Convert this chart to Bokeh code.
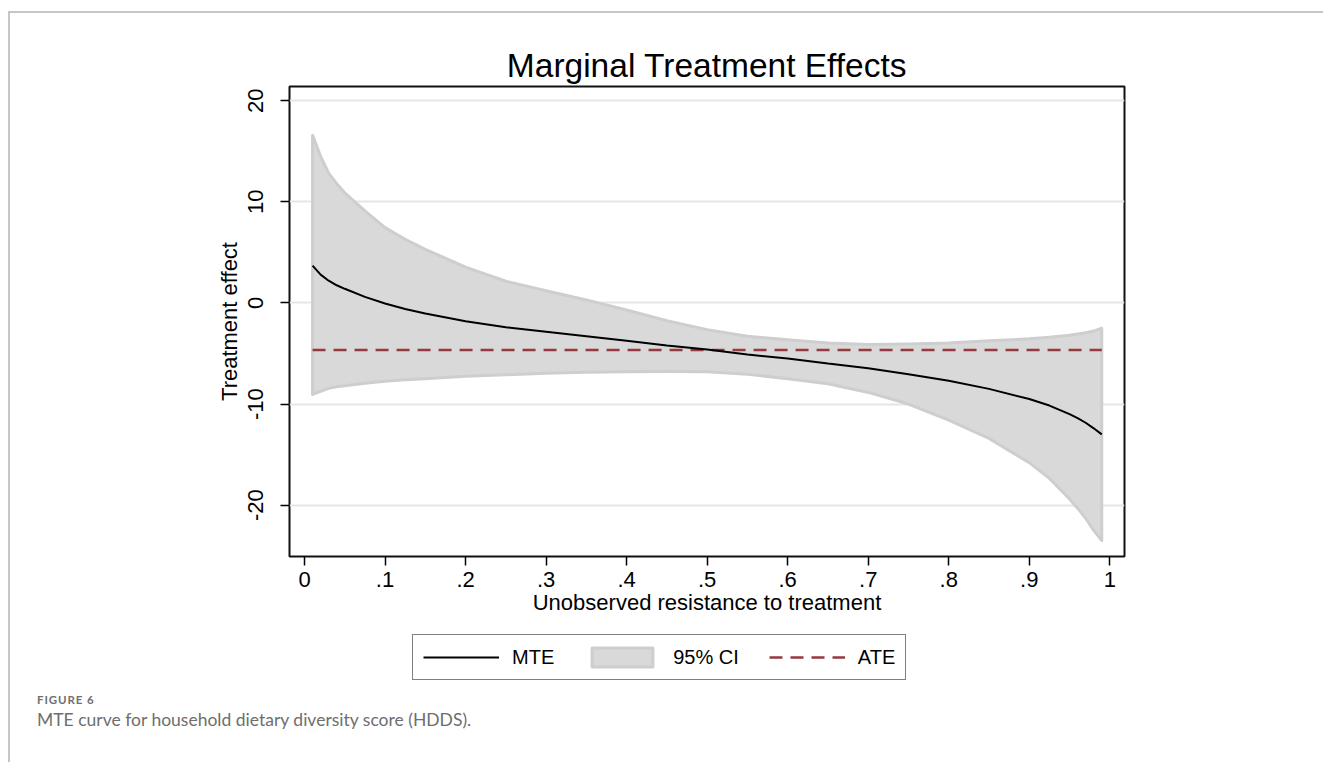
from bokeh.plotting import figure
from bokeh.models import Range1d, FixedTicker, Legend, LegendItem, Div
from bokeh.layouts import column
from bokeh.embed import file_html
from bokeh.resources import INLINE

# ---------------- data ----------------
u = [0.01, 0.02, 0.03, 0.04, 0.05, 0.075, 0.10, 0.125, 0.15, 0.20, 0.25, 0.30,
     0.35, 0.40, 0.45, 0.50, 0.55, 0.60, 0.65, 0.70, 0.75, 0.80, 0.85, 0.90,
     0.925, 0.95, 0.96, 0.97, 0.98, 0.99]
mte = [3.7, 2.8, 2.2, 1.75, 1.4, 0.6, -0.05, -0.6, -1.05, -1.8, -2.4, -2.85,
       -3.3, -3.75, -4.2, -4.6, -5.1, -5.5, -6.0, -6.45, -7.05, -7.7, -8.5, -9.5,
       -10.15, -11.0, -11.4, -11.85, -12.4, -13.0]
ci_upper = [16.6, 14.5, 12.85, 11.8, 10.9, 9.1, 7.45, 6.3, 5.3, 3.55, 2.15, 1.2,
            0.3, -0.7, -1.75, -2.65, -3.3, -3.65, -3.95, -4.1, -4.05, -3.95, -3.75, -3.55,
            -3.4, -3.2, -3.08, -2.95, -2.78, -2.5]
ci_lower = [-9.05, -8.75, -8.45, -8.3, -8.2, -7.95, -7.75, -7.6, -7.5, -7.25, -7.1, -6.95,
            -6.85, -6.8, -6.78, -6.8, -7.05, -7.5, -8.0, -8.85, -10.0, -11.6, -13.4, -15.8,
            -17.35, -19.4, -20.3, -21.3, -22.5, -23.5]
ate = -4.65

x_ticks = [0, 0.1, 0.2, 0.3, 0.4, 0.5, 0.6, 0.7, 0.8, 0.9, 1.0]
x_tick_labels = ["0", ".1", ".2", ".3", ".4", ".5", ".6", ".7", ".8", ".9", "1"]
y_ticks = [-20, -10, 0, 10, 20]
y_tick_labels = ["-20", "-10", "0", "10", "20"]

title_text = "Marginal Treatment Effects"
xlabel_text = "Unobserved resistance to treatment"
ylabel_text = "Treatment effect"
legend_labels = ["MTE", "95% CI", "ATE"]
fig_label = "FIGURE 6"
caption_text = "MTE curve for household dietary diversity score (HDDS)."

FONT = "Liberation Sans"
MTE_STYLE = dict(line_color="black", line_width=2)
BAND_STYLE = dict(fill_color="#d9d9d9", line_color="#cecece", line_width=3, line_join="round")
ATE_STYLE = dict(line_color="#963a40", line_width=2.5, line_dash="13 8")

band_x = u + u[::-1]
band_y = ci_upper + ci_lower[::-1]
ate_y = [ate] * len(u)

# ---------------- main chart ----------------
p = figure(frame_width=835, frame_height=470, output_backend="svg", toolbar_location=None,
           x_range=Range1d(-0.01863, 1.01825), y_range=Range1d(-25.08, 21.41),
           min_border_left=289, min_border_right=199, min_border_top=86,
           min_border_bottom=78)
p.background_fill_color = "white"
p.border_fill_alpha = 0
p.outline_line_color = "#111111"
p.outline_line_width = 2

p.title.text = title_text
p.title.align = "center"
p.title.text_font = FONT
p.title.text_font_size = "33.5px"
p.title.text_font_style = "normal"
p.title.text_color = "black"
p.title.standoff = 6

p.patch(band_x, band_y, **BAND_STYLE)
p.line(u, ate_y, **ATE_STYLE)
p.line(u, mte, **MTE_STYLE)

p.xaxis.ticker = FixedTicker(ticks=x_ticks)
p.xaxis.major_label_overrides = {t: l for t, l in zip(x_ticks, x_tick_labels)}
p.yaxis.ticker = FixedTicker(ticks=y_ticks)
p.yaxis.major_label_overrides = {t: l for t, l in zip(y_ticks, y_tick_labels)}
for ax in (p.xaxis[0], p.yaxis[0]):
    ax.axis_line_color = None
    ax.major_tick_out = 9
    ax.major_tick_in = 0
    ax.major_tick_line_color = "black"
    ax.major_tick_line_width = 1.5
    ax.minor_tick_line_color = None
    ax.major_label_text_font = FONT
    ax.major_label_text_font_size = "22px"
    ax.major_label_text_color = "black"
    ax.axis_label_text_font = FONT
    ax.axis_label_text_font_size = "22px"
    ax.axis_label_text_font_style = "normal"
    ax.axis_label_text_color = "black"
p.xaxis.axis_label = xlabel_text
p.yaxis.axis_label = ylabel_text
p.yaxis.major_label_orientation = "vertical"
p.yaxis.major_label_standoff = 17
p.yaxis.axis_label_standoff = 4
p.xaxis.major_label_standoff = 6
p.xaxis.axis_label_standoff = 0

p.xgrid.grid_line_color = None
p.ygrid.ticker = FixedTicker(ticks=y_ticks)
p.ygrid.grid_line_color = "#e6e6e6"
p.ygrid.grid_line_width = 2

# ---------------- legend strip (frame is aligned with the chart frame) ----------------
pl = figure(width=1323, height=56, output_backend="svg", toolbar_location=None,
            x_range=Range1d(100, 101), y_range=Range1d(100, 101),
            x_axis_type=None, y_axis_type=None,
            min_border_left=0, min_border_right=0, min_border_top=0, min_border_bottom=0)
pl.outline_line_color = None
pl.background_fill_alpha = 0
pl.border_fill_alpha = 0
pl.grid.visible = False
# same series, kept out of view: only their legend swatches show
lr_mte = pl.line(u, mte, **MTE_STYLE)
lr_band = pl.patch(band_x, band_y, **BAND_STYLE)
lr_ate = pl.line(u, ate_y, **ATE_STYLE)
legend = Legend(items=[LegendItem(label=legend_labels[0], renderers=[lr_mte]),
                       LegendItem(label=legend_labels[1], renderers=[lr_band]),
                       LegendItem(label=legend_labels[2], renderers=[lr_ate])],
                orientation="horizontal", location=(123, 10),
                glyph_width=76, glyph_height=24, label_standoff=13, spacing=30,
                padding=10, margin=0, border_line_color="black",
                border_line_width=1.5,
                label_text_font=FONT, label_text_font_size="20px",
                label_text_color="black", background_fill_color="white",
                background_fill_alpha=1.0)
pl.add_layout(legend, "center")

# ---------------- caption ----------------
cap_html = (
    '<div style="position:relative;width:1323px;height:72px;">'
    '<div style="position:absolute;left:37px;top:3px;font-family:Lato;font-weight:bold;'
    'font-size:11.5px;line-height:normal;color:#707070;letter-spacing:0.9px;white-space:nowrap;">'
    + fig_label + '</div>'
    '<div style="position:absolute;left:37px;top:19px;font-family:Lato;font-weight:normal;'
    'font-size:17.5px;line-height:normal;color:#6e6e6e;white-space:nowrap;">'
    + caption_text + '</div>'
    '</div>'
)
cap = Div(text=cap_html, width=1323, height=72, margin=0)

layout = column(p, pl, cap, spacing=0)
layout.styles = {
    "background-color": "white",
    "background-image": "linear-gradient(#c6c6c6, #c6c6c6), linear-gradient(#c6c6c6, #c6c6c6)",
    "background-size": "1320px 2px, 2px 900px",
    "background-position": "9px 11px, 8px 11px",
    "background-repeat": "no-repeat",
}

open("out.html", "w").write(file_html(layout, INLINE))
